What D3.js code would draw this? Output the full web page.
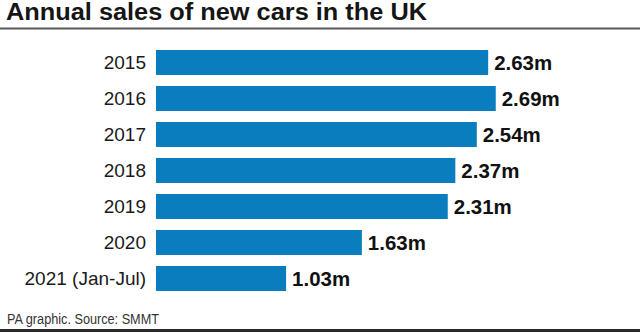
<!DOCTYPE html>
<html>
<head>
<meta charset="utf-8">
<script src="https://cdn.jsdelivr.net/npm/d3@7"></script>
<style>
  html, body { margin: 0; padding: 0; background: #fff; }
  svg { display: block; font-family: "Liberation Sans", Arial, sans-serif; }
</style>
</head>
<body>
<script>
const categories = ["2015", "2016", "2017", "2018", "2019", "2020", "2021 (Jan-Jul)"];
const values = [2.63, 2.69, 2.54, 2.37, 2.31, 1.63, 1.03];
const valueLabels = ["2.63m", "2.69m", "2.54m", "2.37m", "2.31m", "1.63m", "1.03m"];
const title = "Annual sales of new cars in the UK";
const footer = "PA graphic. Source: SMMT";

const W = 640, H = 332;
const svg = d3.select("body").append("svg").attr("width", W).attr("height", H);

const y = d3.scaleBand().domain(categories).range([44.5, 296.5])
  .paddingInner(11 / 36).paddingOuter(11 / 72);
const x = d3.scaleLinear().domain([0, 3]).range([156, 156 + 3 * 126.3]);

// Title
svg.append("text").attr("x", 6).attr("y", 20)
  .attr("font-size", 23.5).attr("font-weight", "bold").attr("fill", "#151515")
  .attr("textLength", 421).attr("lengthAdjust", "spacingAndGlyphs")
  .text(title);

svg.append("rect").attr("x", 0).attr("y", 27.5).attr("width", W).attr("height", 2).attr("fill", "#5a5a5a");

// Bars
svg.append("g").selectAll("rect").data(values).join("rect")
  .attr("x", x(0))
  .attr("y", (d, i) => y(categories[i]))
  .attr("width", d => x(d) - x(0))
  .attr("height", y.bandwidth())
  .attr("fill", "#0a7dbf");

// Category labels
svg.append("g").selectAll("text").data(categories).join("text")
  .attr("x", 146)
  .attr("y", d => y(d) + y.bandwidth() / 2)
  .attr("dy", "0.36em")
  .attr("text-anchor", "end")
  .attr("font-size", 19)
  .attr("fill", "#1a1a1a")
  .text(d => d);

// Value labels
svg.append("g").selectAll("text").data(values).join("text")
  .attr("x", d => x(d) + 6)
  .attr("y", (d, i) => y(categories[i]) + y.bandwidth() / 2)
  .attr("dy", "0.38em")
  .attr("font-size", 19.5)
  .attr("font-weight", "bold")
  .attr("fill", "#111")
  .attr("textLength", 58)
  .attr("lengthAdjust", "spacingAndGlyphs")
  .text((d, i) => valueLabels[i]);

// Footer
svg.append("text").attr("x", 7).attr("y", 324)
  .attr("font-size", 14).attr("fill", "#333")
  .attr("textLength", 152).attr("lengthAdjust", "spacingAndGlyphs")
  .text(footer);
svg.append("rect").attr("x", 0).attr("y", 329).attr("width", W).attr("height", 3).attr("fill", "#2b2b2b");
</script>
</body>
</html>
